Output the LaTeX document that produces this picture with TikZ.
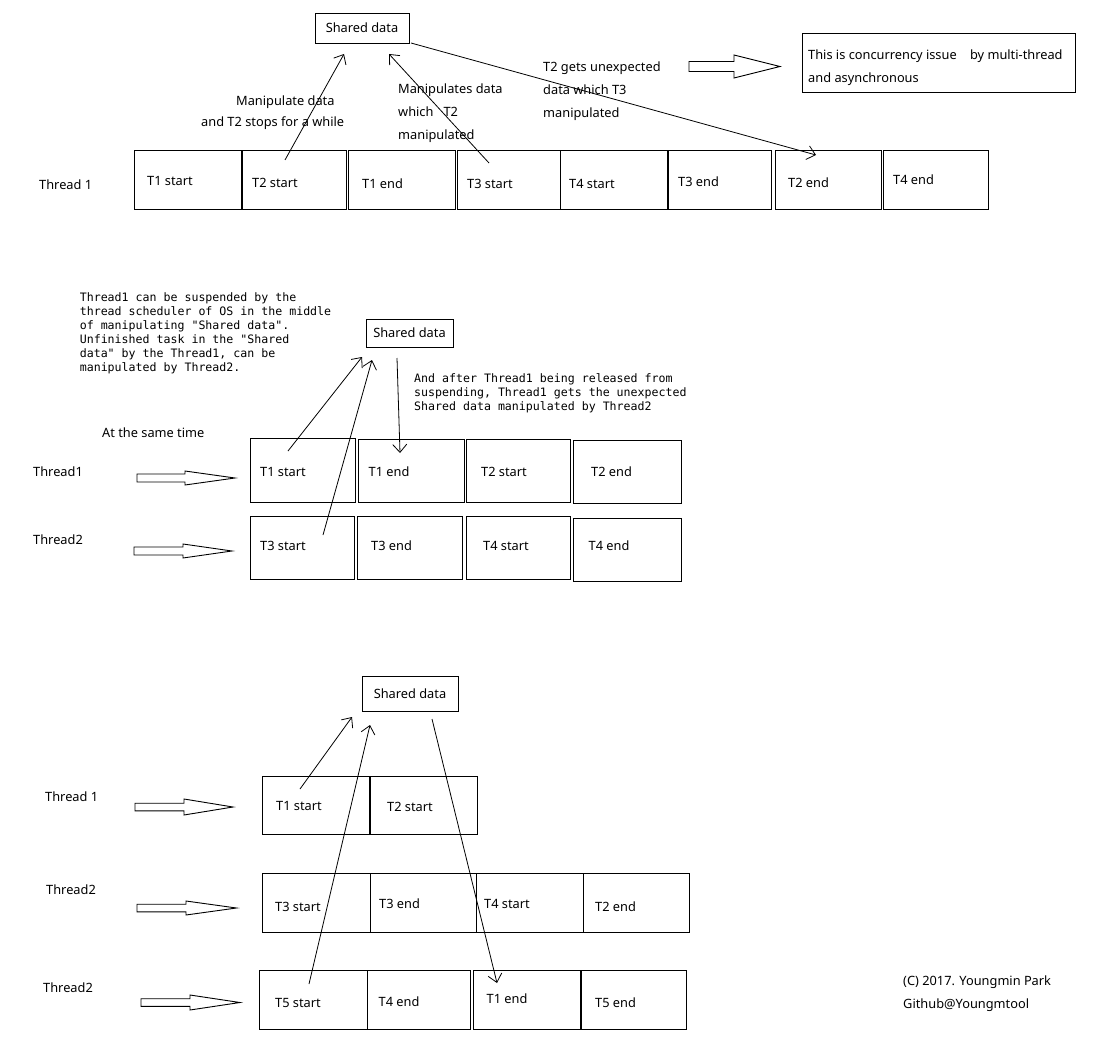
\documentclass[tikz,border=0pt]{standalone}
\usepackage{fontspec}
\setmainfont{Noto Sans}
\newfontfamily\monof{DejaVu Sans Mono}
\usetikzlibrary{arrows.meta}
\tikzset{
  tbx/.style={draw, line width=0.9pt, anchor=north west, inner sep=0pt, outer sep=0pt},
  lbl/.style={anchor=west, inner sep=0pt, font=\fontsize{12.8}{15}\selectfont, text height=9.2pt, text depth=0pt},
  mlbl/.style={anchor=west, inner sep=0pt, font=\monof\fontsize{11.6}{14}\selectfont, text height=8.4pt, text depth=0pt},
  conn/.style={line width=0.8pt, -{Straight Barb[length=8pt,width=14pt]}},
  fat/.style={line width=0.9pt},
  sdbox/.style={draw, line width=0.9pt, inner sep=0pt, font=\fontsize{12.8}{15}\selectfont},
}
\newcommand\tb[8]{%
  \node[tbx, minimum width={(#4-#2)*1pt}, minimum height={(#5-#3)*1pt}] (#1) at (#2,#3) {};
  \node[lbl] (#1t) at (#6,#7) {#8};}
\newcommand\hollow[6]{\draw[fat] (#1,#4-#5) -- (#2,#4-#5) -- (#2,#4-#6) -- (#3,#4) -- (#2,#4+#6) -- (#2,#4+#5) -- (#1,#4+#5) -- cycle;}
\begin{document}
\begin{tikzpicture}[x=1pt,y=-1pt]
\fill[white] (0,0) rectangle (1114,1057);
\useasboundingbox (0,0) rectangle (1114,1057);

% ---------- Section 1 ----------
\node[sdbox, minimum width=94pt, minimum height=30pt] (sd1) at (362,28) {Shared data};
\tb{a1}{134}{150}{241}{209}{147}{181}{T1 start}
\tb{a2}{242}{150}{346}{209}{252}{182.5}{T2 start}
\tb{a3}{348}{150}{455}{209}{362}{184}{T1 end}
\tb{a4}{457}{150}{560}{209}{467}{184}{T3 start}
\tb{a5}{560}{150}{667}{209}{569}{184}{T4 start}
\tb{a6}{668}{150}{771}{209}{678}{182}{T3 end}
\tb{a7}{775}{150}{881}{209}{788}{183}{T2 end}
\tb{a8}{883}{150}{988}{209}{893}{180}{T4 end}
\node[lbl] (th1) at (39,185) {Thread 1};
\node[lbl] (m1a) at (236,101) {Manipulate data};
\node[lbl] (m1b) at (201,122) {and T2 stops for a while};
\node[lbl] (m2a) at (398,89) {Manipulates data};
\node[lbl] (m2b) at (398,112) {which~~~T2};
\node[lbl] (m2c) at (398,135) {manipulated};
\node[lbl] (m3a) at (543,67) {T2 gets unexpected};
\node[lbl] (m3b) at (543,90) {data which T3};
\node[lbl] (m3c) at (543,113) {manipulated};
\hollow{689}{734}{780}{66.5}{5}{11.5}
\node[draw, line width=0.9pt, minimum width=273pt, minimum height=59pt, inner sep=0pt] (iss) at (938.5,62.5) {};
\node[lbl] (iss1) at (808,55) {This is concurrency issue~~~~by multi-thread};
\node[lbl] (iss2) at (808,78) {and asynchronous};
\coordinate (p1) at (285,160); \coordinate (q1) at (344,54);
\coordinate (p2) at (489,163); \coordinate (q2) at (389,54);
\coordinate (p3) at (411,43);  \coordinate (q3) at (816,155);
\draw[conn] (p1) -- (q1);
\draw[conn] (p2) -- (q2);
\draw[conn] (p3) -- (q3);

% ---------- Section 2 ----------
\node[sdbox, minimum width=87pt, minimum height=28pt] (sd2) at (409.5,333) {Shared data};
\node[mlbl] (ta1) at (79.6,297) {Thread1 can be suspended by the};
\node[mlbl] (ta2) at (79.6,311) {thread scheduler of OS in the middle};
\node[mlbl] (ta3) at (79.6,325) {of manipulating "Shared data".};
\node[mlbl] (ta4) at (79.6,339) {Unfinished task in the "Shared};
\node[mlbl] (ta5) at (79.6,353) {data" by the Thread1, can be};
\node[mlbl] (ta6) at (79.6,367) {manipulated by Thread2.};
\node[mlbl] (tb1) at (414,378) {And after Thread1 being released from};
\node[mlbl] (tb2) at (414,392) {suspending, Thread1 gets the unexpected};
\node[mlbl] (tb3) at (414,406.5) {Shared data manipulated by Thread2};
\node[lbl] (same) at (102,432.5) {At the same time};
\node[lbl] (th21) at (33,471.5) {Thread1};
\node[lbl] (th22) at (33,540) {Thread2};
\hollow{137}{185}{235}{478}{4}{7}
\hollow{134}{183}{232}{551}{4}{7}
\tb{b1}{250}{438}{355}{502}{260}{472}{T1 start}
\tb{b2}{358}{439}{464}{502}{368.5}{472}{T1 end}
\tb{b3}{466}{439}{570}{502}{481}{472}{T2 start}
\tb{b4}{573}{440}{681}{503}{591}{472}{T2 end}
\tb{c1}{250}{516}{354}{579}{260}{545.5}{T3 start}
\tb{c2}{357}{516}{462}{579}{371}{545.5}{T3 end}
\tb{c3}{466}{516}{570}{579}{483}{545.5}{T4 start}
\tb{c4}{573}{518}{681}{581}{588.5}{545.5}{T4 end}
\coordinate (p4) at (288,451); \coordinate (q4) at (362,357);
\coordinate (p5) at (323,535); \coordinate (q5) at (372,360);
\coordinate (p6) at (397,358); \coordinate (q6) at (400,453);
\draw[conn] (p4) -- (q4);
\draw[conn] (p5) -- (q5);
\draw[conn] (p6) -- (q6);

% ---------- Section 3 ----------
\node[sdbox, minimum width=96pt, minimum height=35pt] (sd3) at (410,693.5) {Shared data};
\node[lbl] (th31) at (45,797) {Thread 1};
\node[lbl] (th32) at (46,890) {Thread2};
\node[lbl] (th33) at (43,987.5) {Thread2};
\hollow{135}{184}{233}{807}{3.8}{8}
\hollow{137}{186}{236.5}{908}{3.8}{7}
\hollow{141}{190}{240}{1002.5}{3.8}{7.5}
\tb{d1}{262}{776}{369.5}{834}{276}{805.5}{T1 start}
\tb{d2}{370.5}{776}{477}{834}{387}{806.5}{T2 start}
\tb{e1}{262}{873}{370}{932}{275}{906.5}{T3 start}
\tb{e2}{370.5}{873}{476}{932}{379}{904}{T3 end}
\tb{e3}{476}{873}{583.5}{932}{484}{904}{T4 start}
\tb{e4}{583.5}{873}{689.5}{932}{595}{907}{T2 end}
\tb{f1}{259}{970}{367}{1029}{275}{1003}{T5 start}
\tb{f2}{367.5}{970}{470}{1029}{378.5}{1001.5}{T4 end}
\tb{f3}{473}{970}{580}{1029}{486.5}{999}{T1 end}
\tb{f4}{581}{970}{686}{1029}{595}{1003}{T5 end}
\coordinate (p7) at (300,789); \coordinate (q7) at (352,717);
\coordinate (p8) at (309,984); \coordinate (q8) at (370,725);
\coordinate (p9) at (432,719); \coordinate (q9) at (497,983);
\draw[conn] (p7) -- (q7);
\draw[conn] (p8) -- (q8);
\draw[conn] (p9) -- (q9);

\node[lbl] (cp1) at (903,981) {(C) 2017. Youngmin Park};
\node[lbl] (cp2) at (903,1004) {Github@Youngmtool};
\end{tikzpicture}
\end{document}
